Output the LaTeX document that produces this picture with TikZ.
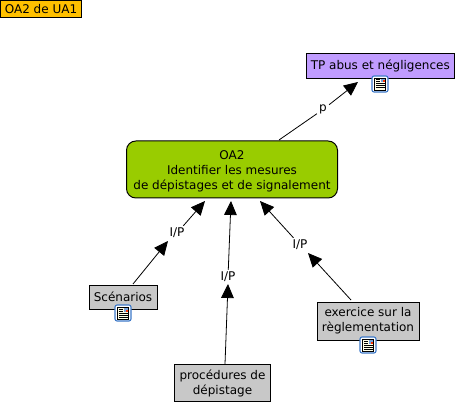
\documentclass[tikz,border=0pt]{standalone}
\usepackage{fontspec}
\setmainfont{DejaVu Sans}
\usetikzlibrary{arrows.meta}
\definecolor{orangebox}{HTML}{FFC000}
\definecolor{purplebox}{HTML}{C09CFF}
\definecolor{greenbox}{HTML}{99CC00}
\definecolor{greybox}{HTML}{C8C8C8}
\definecolor{iconblue}{HTML}{3C78C8}
\tikzset{
  x=0.75pt,y=-0.75pt,
  every node/.style={font=\fontsize{9}{11.25}\selectfont,align=center,inner sep=0pt,text=black},
  conceptbox/.style={draw=black,line width=0.75pt},
  linklabel/.style={fill=white,inner sep=1.5pt},
  link/.style={line width=0.6pt,draw=black},
  arrowlink/.style={link,-{Triangle[length=10.5pt,width=9.5pt]}},
  resicon/.pic={
    \draw[iconblue,line width=0.8pt,fill=white,rounded corners=1.5pt] (-8,-8) rectangle (8,8);
    \draw[black,line width=0.5pt,fill=white!90!yellow] (-5.5,-6) rectangle (5.5,6);
    \fill[black] (-4.5,-4.5) rectangle (-0.5,-3.7);
    \fill[black] (-4.5,-2.5) rectangle (-0.5,-1.7);
    \fill[black] (-4.5,-0.5) rectangle (4.5,0.3);
    \fill[black] (-4.5,1.5) rectangle (4.5,2.3);
    \fill[black] (-4.5,3.5) rectangle (4.5,4.3);
    \fill[iconblue!70] (0.5,-5) rectangle (4.5,-1.5);
    \fill[red!60!orange] (2.5,-3.5) rectangle (4.5,-1.5);
  }
}
\begin{document}
\begin{tikzpicture}
\useasboundingbox (0,0) rectangle (456,402);
\node[conceptbox,fill=orangebox,minimum width=80.5*0.75pt,minimum height=17*0.75pt] (title) at (41,9.5) {OA2 de UA1};
\node[conceptbox,fill=purplebox,minimum width=147.5*0.75pt,minimum height=25*0.75pt,text height=7pt] (tp) at (380.3,66.5) {TP abus et négligences};
\node[conceptbox,fill=greenbox,rounded corners=7pt,minimum width=211*0.75pt,minimum height=57*0.75pt] (oa) at (232,169.5) {\rule{0pt}{9pt}OA2\\Identifier les mesures\\de dépistages et de signalement};
\node[conceptbox,fill=greybox,minimum width=68*0.75pt,minimum height=24*0.75pt] (sc) at (123,297) {Scénarios};
\node[conceptbox,fill=greybox,minimum width=102*0.75pt,minimum height=38*0.75pt] (ex) at (368,321) {exercice sur la\\règlementation};
\node[conceptbox,fill=greybox,minimum width=96*0.75pt,minimum height=37*0.75pt] (pr) at (222.5,383) {\rule{0pt}{8.5pt}procédures de\\dépistage};

\node[linklabel] (lp) at (323,109.5) {p};
\node[linklabel] (l1) at (177,233) {I/P};
\node[linklabel] (l2) at (228,277) {I/P};
\node[linklabel] (l3) at (300,245) {I/P};

\coordinate (tipA) at (358,82);
\coordinate (tipB) at (168,241);
\coordinate (tipC) at (205,201);
\coordinate (tipD) at (228,284);
\coordinate (tipE) at (231,201);
\coordinate (tipF) at (308,253);
\coordinate (tipG) at (260,201);

\draw[link] (279,140) -- (lp);
\draw[arrowlink] (lp) -- (tipA);
\draw[arrowlink] (133,284) -- (tipB);
\draw[arrowlink] (l1) -- (tipC);
\draw[arrowlink] (225,364) -- (tipD);
\draw[arrowlink] (l2) -- (tipE);
\draw[arrowlink] (351,300) -- (tipF);
\draw[arrowlink] (l3) -- (tipG);

\pic at (380,84) {resicon};
\pic at (123,313) {resicon};
\pic at (368,345) {resicon};
\end{tikzpicture}
\end{document}
